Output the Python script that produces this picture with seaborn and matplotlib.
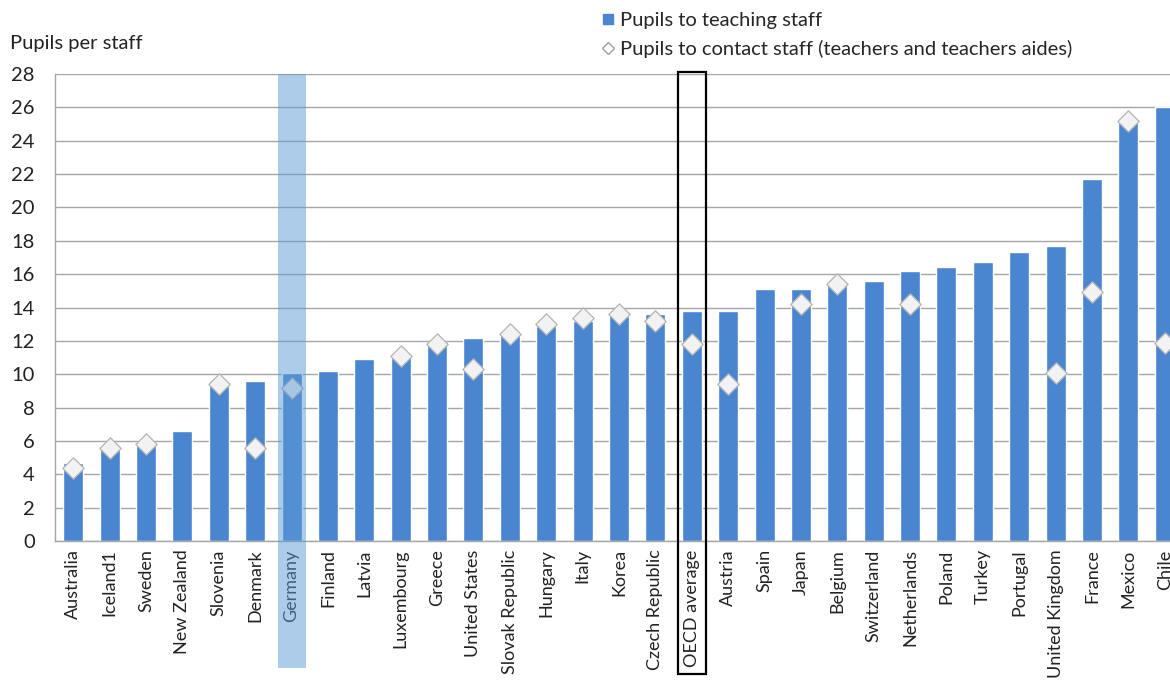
import numpy as np
import pandas as pd
import matplotlib
matplotlib.use("Agg")
import matplotlib.pyplot as plt
from matplotlib.patches import Rectangle
from matplotlib.lines import Line2D
import matplotlib.transforms as mtransforms
import seaborn as sns

countries = [
    "Australia", "Iceland1", "Sweden", "New Zealand", "Slovenia", "Denmark",
    "Germany", "Finland", "Latvia", "Luxembourg", "Greece", "United States",
    "Slovak Republic", "Hungary", "Italy", "Korea", "Czech Republic",
    "OECD average", "Austria", "Spain", "Japan", "Belgium", "Switzerland",
    "Netherlands", "Poland", "Turkey", "Portugal", "United Kingdom", "France",
    "Mexico", "Chile",
]
teaching_staff = [
    4.7, 5.6, 5.9, 6.6, 9.3, 9.6,
    10.1, 10.2, 10.9, 11.1, 11.9, 12.2,
    12.4, 12.9, 13.2, 13.5, 13.6,
    13.8, 13.8, 15.1, 15.1, 15.4, 15.6,
    16.2, 16.4, 16.7, 17.3, 17.7, 21.7,
    25.1, 26.0,
]
contact_staff = [
    4.4, 5.6, 5.8, None, 9.4, 5.6,
    9.2, None, None, 11.1, 11.8, 10.3,
    12.4, 13.0, 13.4, 13.6, 13.2,
    11.8, 9.4, None, 14.2, 15.4, None,
    14.2, None, None, None, 10.1, 14.9,
    25.2, 11.9,
]
y_ticks = list(range(0, 30, 2))
highlight_country = "Germany"
average_label = "OECD average"

BAR_BLUE = "#4a86d0"
GRID_GREY = "#a6a6a6"
TEXT = "#222222"

sns.set_style("white")
plt.rcParams["font.family"] = ["Lato", "DejaVu Sans"]

df = pd.DataFrame({
    "country": countries,
    "teaching": teaching_staff,
    "contact": [np.nan if v is None else v for v in contact_staff],
})
df["pos"] = np.arange(len(df))

fig = plt.figure(figsize=(11.70, 6.84), dpi=100)
ax = fig.add_axes([55 / 1170, 1 - 541 / 684, 1128 / 1170, 467 / 684])

sns.barplot(data=df, x="country", y="teaching", color=BAR_BLUE,
            saturation=1, width=0.55, ax=ax, zorder=2)

pts = df.dropna(subset=["contact"])
sns.scatterplot(x=pts["pos"], y=pts["contact"], marker="D", s=118,
                color="#f2f2f2", edgecolor="#b4b4b4", linewidth=0.9,
                ax=ax, zorder=3, legend=False)

ax.set_xlim(-0.5, len(countries) - 0.5)
ax.set_ylim(0, 28)
ax.set_yticks(y_ticks)
ax.set_yticklabels([str(t) for t in y_ticks], fontsize=14.5, color=TEXT)
ax.set_xticks(df["pos"])
ax.set_xticklabels(countries, rotation=90, fontsize=13, color=TEXT)
ax.tick_params(axis="x", length=0, pad=6)
ax.tick_params(axis="y", length=5, width=1, color=GRID_GREY, pad=9.5)
ax.set_xlabel("")
ax.set_ylabel("")

ax.yaxis.grid(True, color=GRID_GREY, linewidth=1)
ax.set_axisbelow(True)
for side in ("top", "right"):
    ax.spines[side].set_visible(False)
for side in ("left", "bottom"):
    ax.spines[side].set_color(GRID_GREY)
    ax.spines[side].set_linewidth(1)

# translucent column over the highlighted country, reaching down past its label
trans = mtransforms.blended_transform_factory(ax.transData, ax.transAxes)
hi = countries.index(highlight_country)
ax.add_patch(Rectangle((hi - 0.385, -0.272), 0.77, 1.272, transform=trans,
                       facecolor="#5b9bd5", alpha=0.5, edgecolor="none",
                       clip_on=False, zorder=6))

# outline around the average column and its label
av = countries.index(average_label)
ax.add_patch(Rectangle((av - 0.385, -0.285), 0.77, 1.29, transform=trans,
                       facecolor="none", edgecolor="black", linewidth=1.6,
                       clip_on=False, zorder=7))

fig.text(10 / 1170, 1 - 44 / 684, "Pupils per staff", fontsize=14.5,
         color=TEXT, va="center", ha="left")

handles = [
    Line2D([], [], marker="s", linestyle="none", markersize=7,
           markerfacecolor=BAR_BLUE, markeredgecolor=BAR_BLUE),
    Line2D([], [], marker="D", linestyle="none", markersize=6,
           markerfacecolor="white", markeredgecolor="#a0a0a0"),
]
labels = ["Pupils to teaching staff",
          "Pupils to contact staff (teachers and teachers aides)"]
fig.legend(handles, labels, loc="upper left",
           bbox_to_anchor=(602 / 1170, 1 - 12 / 684), frameon=False,
           fontsize=14.5, handlelength=0.6, handletextpad=0.3,
           labelspacing=0.55, borderaxespad=0, borderpad=0)

fig.savefig("out.png", dpi=100)
